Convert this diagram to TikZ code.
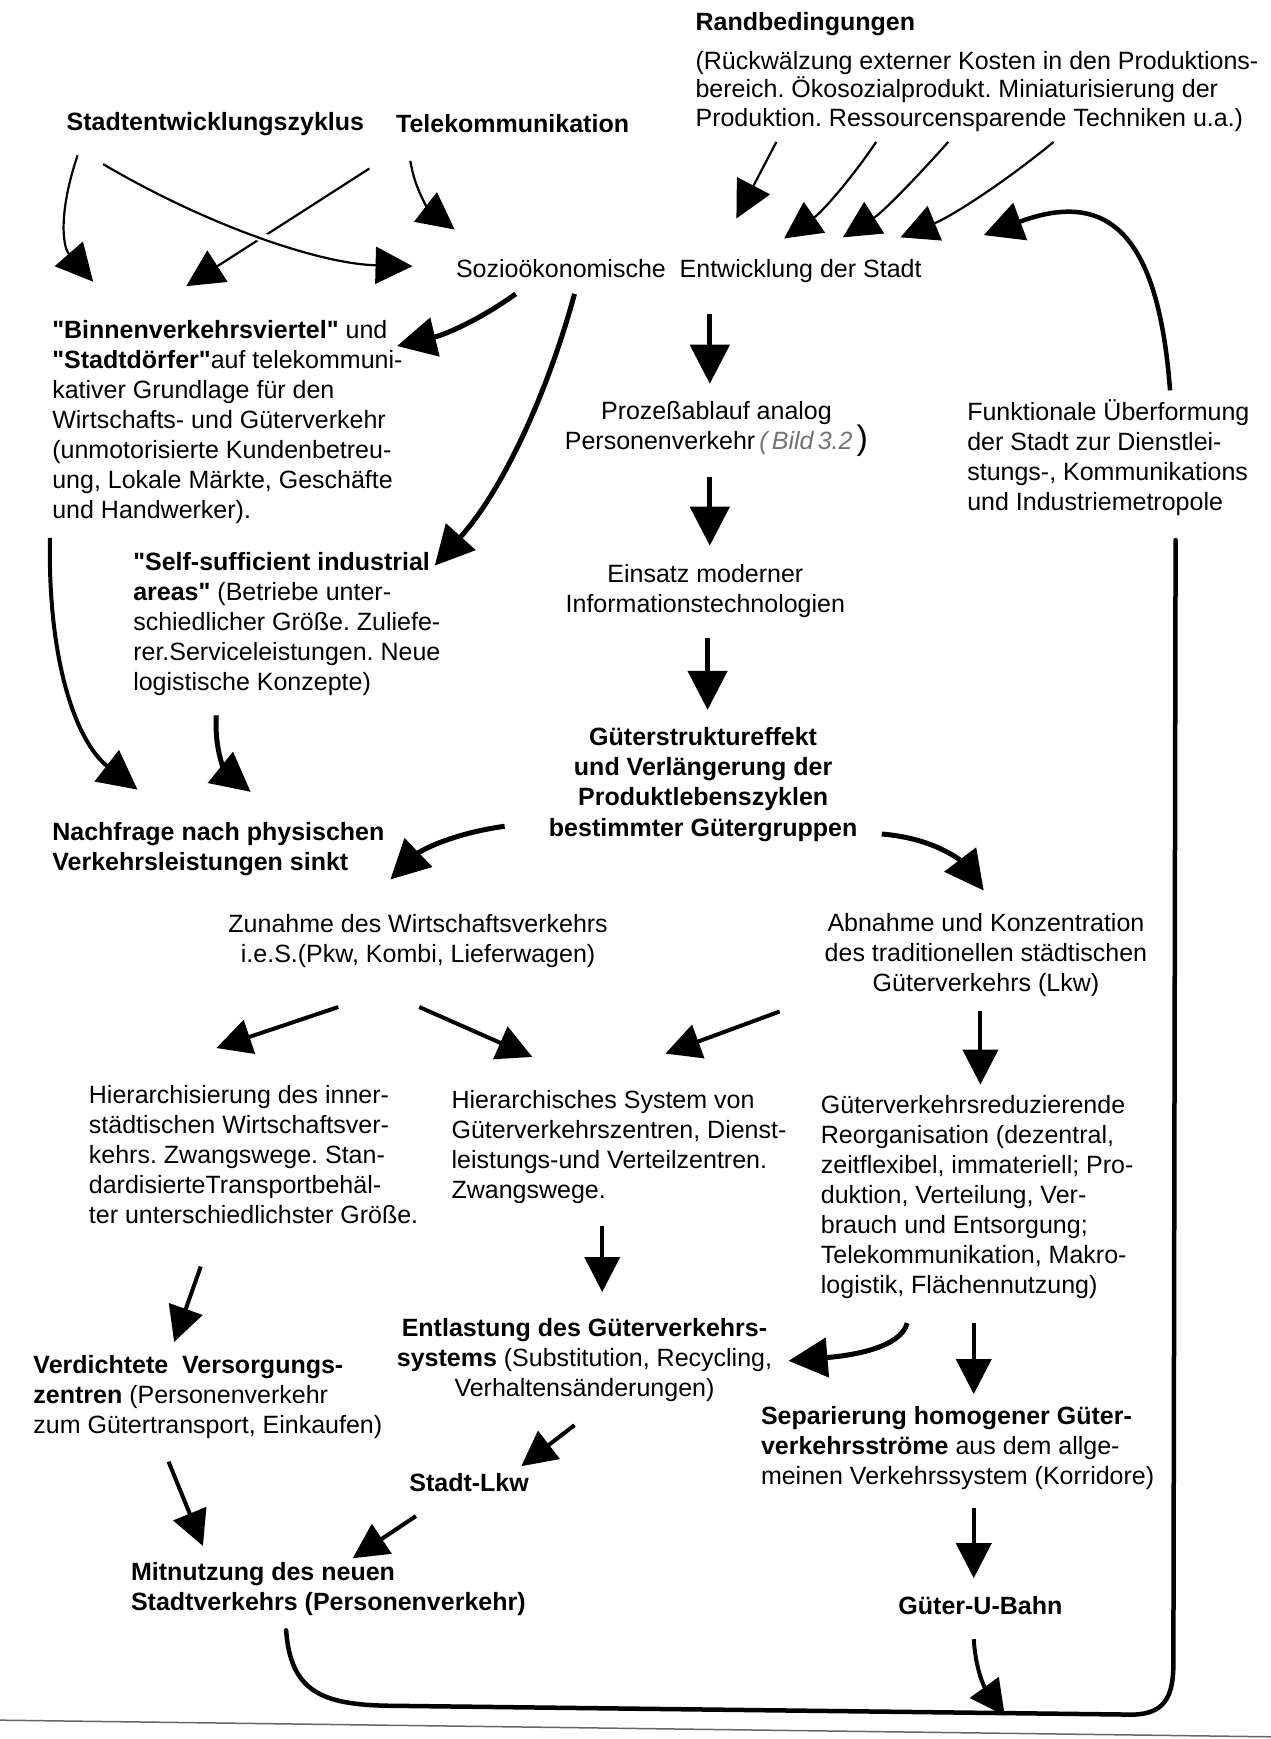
\documentclass[tikz,border=0pt]{standalone}
\usepackage{fontspec}
\setmainfont{Liberation Sans}[Ligatures=TeXOff]
\usetikzlibrary{arrows.meta}
\newcommand\tstrut{\rule{0pt}{24pt}}
\frenchspacing
\begin{document}
\begin{tikzpicture}[x=1.109pt,y=-1.109pt,
  txt/.style={inner sep=0pt, font=\fontsize{25}{30}\selectfont},
  lt/.style={txt, anchor=north west, align=left},
  ct/.style={txt, anchor=north, align=center},
  thinarr/.style={line width=2.2pt, -{Triangle[length=37pt,width=37pt]}},
  thickarr/.style={line width=5pt, -{Triangle[length=39pt,width=39pt]}},
  midarr/.style={line width=4pt, -{Triangle[length=35pt,width=35pt]}},
  loopline/.style={line width=4.5pt, line cap=round},
]
\useasboundingbox (0,0) rectangle (1146,1568);
\fill[white] (0,0) rectangle (1146,1568);

% ---------- text nodes ----------
\node[lt] (randt) at (627,6) {\tstrut\textbf{Randbedingungen}};
\node[lt, font=\fontsize{25}{28.3}\selectfont] (randb) at (627,41) {\tstrut(Rückwälzung externer Kosten in den Produktions-\\bereich. Ökosozialprodukt. Miniaturisierung der\\Produktion. Ressourcensparende Techniken u.a.)};
\node[lt] (stz) at (60,96) {\tstrut\textbf{Stadtentwicklungszyklus}};
\node[lt] (tele) at (357,98) {\tstrut\textbf{Telekommunikation}};
\node[lt] (sozio) at (411,228) {\tstrut Sozioökonomische\ \ Entwicklung der Stadt};
\node[lt] (binnen) at (47,283) {\tstrut\textbf{"Binnenverkehrsviertel"} und\\\textbf{"Stadtdörfer"}auf telekommuni-\\kativer Grundlage für den\\Wirtschafts- und Güterverkehr\\(unmotorisierte Kundenbetreu-\\ung, Lokale Märkte, Geschäfte\\und Handwerker).};
\node[lt] (self) at (120,493) {\tstrut\textbf{"Self-sufficient industrial}\\\textbf{areas"} (Betriebe unter-\\schiedlicher Größe. Zuliefe-\\rer.Serviceleistungen. Neue\\logistische Konzepte)};
\node[ct] (proz) at (646,356) {\tstrut Prozeßablauf analog\\Personenverkehr\,{\color{black!55}\itshape(\,Bild\,3.2\,}{\fontsize{34}{30}\selectfont)}};
\node[lt] (funk) at (872,357) {\tstrut Funktionale Überformung\\der Stadt zur Dienstlei-\\stungs-, Kommunikations\\und Industriemetropole};
\node[ct] (einsatz) at (636,503) {\tstrut Einsatz moderner\\Informationstechnologien};
\node[ct, font=\fontsize{25}{30.3}\bfseries] (guet) at (634,650) {\tstrut Güterstruktureffekt\\und Verlängerung der\\Produktlebenszyklen\\bestimmter Gütergruppen};
\node[lt, font=\fontsize{25}{30}\bfseries] (nach) at (47,736) {\tstrut Nachfrage nach physischen\\Verkehrsleistungen sinkt};
\node[ct] (zun) at (377,819) {\tstrut Zunahme des Wirtschaftsverkehrs\\i.e.S.(Pkw, Kombi, Lieferwagen)};
\node[ct] (abn) at (889,818) {\tstrut Abnahme und Konzentration\\des traditionellen städtischen\\Güterverkehrs (Lkw)};
\node[lt] (hier) at (80,973) {\tstrut Hierarchisierung des inner-\\städtischen Wirtschaftsver-\\kehrs. Zwangswege. Stan-\\dardisierteTransportbehäl-\\ter unterschiedlichster Größe.};
\node[lt] (hsys) at (407,978) {\tstrut Hierarchisches System von\\Güterverkehrszentren, Dienst-\\leistungs-und Verteilzentren.\\Zwangswege.};
\node[lt] (gred) at (740,982) {\tstrut Güterverkehrsreduzierende\\Reorganisation (dezentral,\\zeitflexibel, immateriell; Pro-\\duktion, Verteilung, Ver-\\brauch und Entsorgung;\\Telekommunikation, Makro-\\logistik, Flächennutzung)};
\node[ct] (entl) at (527,1183) {\tstrut\textbf{Entlastung des Güterverkehrs-}\\\textbf{systems} (Substitution, Recycling,\\Verhaltensänderungen)};
\node[lt] (verd) at (30,1217) {\tstrut\textbf{Verdichtete\ \ Versorgungs-}\\\textbf{zentren} (Personenverkehr\\zum Gütertransport, Einkaufen)};
\node[lt] (sep) at (686,1263) {\tstrut\textbf{Separierung homogener Güter-}\\\textbf{verkehrsströme} aus dem allge-\\meinen Verkehrssystem (Korridore)};
\node[ct] (slkw) at (423,1323) {\tstrut\textbf{Stadt-Lkw}};
\node[lt, font=\fontsize{25}{30}\bfseries] (mit) at (118,1403) {\tstrut Mitnutzung des neuen\\Stadtverkehrs (Personenverkehr)};
\node[ct] (ubahn) at (884,1434) {\tstrut\textbf{Güter-U-Bahn}};

% ---------- connector end points ----------
\coordinate (stzA) at (70,140);   \coordinate (binA) at (84,254);
\coordinate (stzB) at (93,148);   \coordinate (sozA) at (372,240);
\coordinate (telA) at (333,152);  \coordinate (binB) at (168,258);
\coordinate (telB) at (370,145);  \coordinate (sozB) at (410,207);
\coordinate (rA1) at (700,128);   \coordinate (sozR1) at (664,197);
\coordinate (rA2) at (790,128);   \coordinate (sozR2) at (707,215);
\coordinate (rA3) at (855,128);   \coordinate (sozR3) at (760,214);
\coordinate (rA4) at (950,128);   \coordinate (sozR4) at (812,214);
\coordinate (funkTop) at (1055,352); \coordinate (sozF) at (887,212);
\coordinate (mitBot) at (258,1470); \coordinate (funkBot) at (1060,487);
\coordinate (sozC) at (465,265);  \coordinate (binC) at (358,312);
\coordinate (sozD) at (518,265);  \coordinate (selfA) at (392,510);
\coordinate (sozE) at (640,283);  \coordinate (prozA) at (640,346);
\coordinate (prozB) at (640,430); \coordinate (einA) at (640,492);
\coordinate (einB) at (638,575);  \coordinate (guetA) at (638,640);
\coordinate (binD) at (45,485);   \coordinate (nachA) at (124,712);
\coordinate (selfB) at (195,645); \coordinate (nachB) at (226,714);
\coordinate (guetB) at (455,745); \coordinate (zunA) at (352,793);
\coordinate (guetC) at (795,752); \coordinate (abnA) at (887,803);
\coordinate (zunB) at (305,908);  \coordinate (hierA) at (195,945);
\coordinate (zunC) at (378,908);  \coordinate (hsysA) at (480,953);
\coordinate (abnB) at (703,912);  \coordinate (hsysB) at (600,950);
\coordinate (abnC) at (884,912);  \coordinate (gredA) at (884,978);
\coordinate (hierB) at (181,1142); \coordinate (verdA) at (157,1210);
\coordinate (hsysC) at (543,1105); \coordinate (entlA) at (543,1165);
\coordinate (gredB) at (818,1193); \coordinate (entlB) at (711,1227);
\coordinate (gredC) at (878,1193); \coordinate (sepA) at (878,1257);
\coordinate (entlC) at (518,1285); \coordinate (slkwA) at (470,1322);
\coordinate (verdB) at (152,1318); \coordinate (mitA) at (183,1394);
\coordinate (slkwB) at (375,1367); \coordinate (mitB) at (318,1405);
\coordinate (sepB) at (878,1360);  \coordinate (ubA) at (878,1423);
\coordinate (ubB) at (878,1478);   \coordinate (loopA) at (906,1547);

% ---------- connectors ----------
\draw[thinarr] (stzA) .. controls (53,190) and (56,222) .. (binA);
\draw[thinarr] (telA) -- (binB);
\draw[thinarr, preaction={draw=white, line width=9pt, -}] (stzB) .. controls (190,205) and (290,238) .. (sozA);
\draw[thinarr] (telB) .. controls (374,172) and (388,190) .. (sozB);
\draw[thinarr] (rA1) -- (sozR1);
\draw[thinarr] (rA2) .. controls (765,165) and (740,192) .. (sozR2);
\draw[thinarr] (rA3) .. controls (822,165) and (795,192) .. (sozR3);
\draw[thinarr] (rA4) .. controls (905,165) and (858,195) .. (sozR4);
\draw[thickarr, line width=4.5pt] (funkTop) .. controls (1045,220) and (1005,168) .. (sozF);
\draw[loopline] (mitBot) .. controls (262,1525) and (290,1537) .. (350,1538) -- (1020,1546) .. controls (1050,1546) and (1058,1530) .. (1058,1500) -- (funkBot);
\draw[thickarr] (sozC) .. controls (430,290) and (400,302) .. (binC);
\draw[thickarr] (sozD) .. controls (495,350) and (455,440) .. (selfA);
\draw[thickarr] (sozE) -- (prozA);
\draw[thickarr] (prozB) -- (einA);
\draw[thickarr] (einB) -- (guetA);
\draw[thickarr, line width=4pt] (binD) .. controls (43,600) and (70,670) .. (nachA);
\draw[thickarr] (selfB) .. controls (193,680) and (205,697) .. (nachB);
\draw[thickarr] (guetB) .. controls (405,752) and (378,768) .. (zunA);
\draw[thickarr] (guetC) .. controls (845,756) and (868,778) .. (abnA);
\draw[midarr] (zunB) -- (hierA);
\draw[midarr] (zunC) -- (hsysA);
\draw[midarr] (abnB) -- (hsysB);
\draw[midarr] (abnC) -- (gredA);
\draw[midarr] (hierB) -- (verdA);
\draw[midarr] (hsysC) -- (entlA);
\draw[thickarr] (gredB) .. controls (812,1215) and (770,1222) .. (entlB);
\draw[midarr] (gredC) -- (sepA);
\draw[midarr] (entlC) -- (slkwA);
\draw[midarr] (verdB) -- (mitA);
\draw[midarr] (slkwB) -- (mitB);
\draw[midarr] (sepB) -- (ubA);
\draw[midarr] (ubB) .. controls (880,1510) and (890,1525) .. (loopA);

% page edge of the scan
\draw[black!60, line width=1.5pt] (0,1551) -- (1146,1566);
\end{tikzpicture}
\end{document}
